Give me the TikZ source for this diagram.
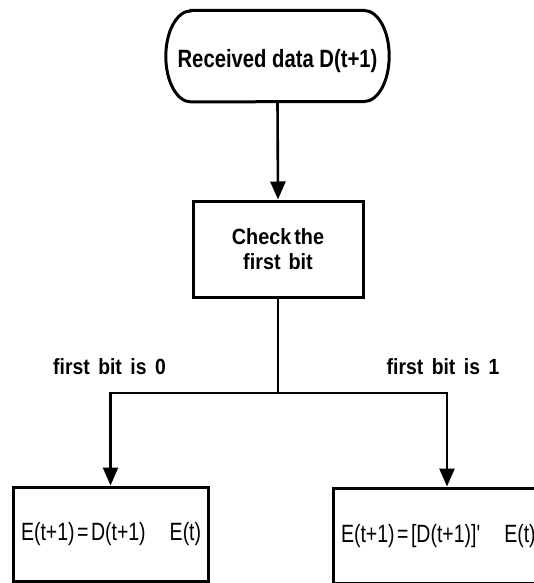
\documentclass[tikz,border=0pt]{standalone}
\usepackage{fontspec}
\setmainfont{Liberation Sans}
\newfontfamily\fRecv[FakeStretch=0.81]{Liberation Sans}
\newfontfamily\fCheck[FakeStretch=0.9]{Liberation Sans}
\newfontfamily\fLab[FakeStretch=0.88]{Liberation Sans}
\newfontfamily\fEq[FakeStretch=0.78]{Liberation Sans}
\usetikzlibrary{arrows.meta}
\begin{document}
\begin{tikzpicture}[x=1pt, y=-1pt,
  outline/.style={draw=black, line width=3pt},
  procbox/.style={outline, rectangle, inner sep=0pt},
  eqbox/.style={outline, rectangle, inner xsep=8pt, inner ysep=0pt, align=left,
    font=\fEq\fontsize{25}{29}\selectfont},
  flow/.style={draw=black, line width=2.6pt, -{Triangle[length=18pt,width=15pt]}},
  wire/.style={draw=black, line width=2.6pt},
  branchlabel/.style={anchor=base, inner sep=0pt,
    font=\fLab\bfseries\fontsize{22}{26}\selectfont}]
\useasboundingbox (0,0) rectangle (534,583);
\clip (0,0) rectangle (534,583);

% start terminal
\node (start) [minimum width=223pt, minimum height=91pt, inner sep=0pt,
  font=\fRecv\bfseries\fontsize{25}{30}\selectfont] at (277.5,56.2)
  {\raisebox{-5pt}[\height][\depth]{Received data D(t+1)}};
\draw[outline] ([xshift=25pt]start.north west) -- ([xshift=-25pt]start.north east)
  arc[start angle=90, end angle=-90, x radius=25pt, y radius=45.5pt]
  -- ([xshift=25pt]start.south west)
  arc[start angle=270, end angle=90, x radius=25pt, y radius=45.5pt] -- cycle;

% decision step
\node (check) [procbox, minimum width=170pt, minimum height=96pt, align=center,
  font=\fCheck\bfseries\fontsize{22}{25}\selectfont] at (278,249)
  {Check\hspace{3pt}the\\first\hspace{8pt}bit};

% result boxes
\node (lbox) [eqbox, minimum width=195pt, minimum height=94pt, text width=179pt] at (110.5,534)
  {\mbox{E(t+1)\kern2.5pt=\kern2.5pt D(t+1)\hspace{24pt}E(t)}};
\node (rbox) [eqbox, minimum width=228pt, minimum height=95.5pt, text width=212pt] at (447,535.75)
  {\mbox{E(t+1)\kern2.5pt=\kern2.5pt[D(t+1)]\symbol{39}\hspace{24pt}E(t)}};

% branch labels
\node (lab0) [branchlabel] at (109.5,374.3) {first\hspace{8.5pt}bit\hspace{8.5pt}is\hspace{8.5pt}0};
\node (lab1) [branchlabel] at (443,374.3) {first\hspace{8.5pt}bit\hspace{8.5pt}is\hspace{8.5pt}1};

% connectors
\coordinate (split) at (278,393);
\draw[flow] (start.south) -- (check.north);
\draw[wire] (check.south) -- (split);
\draw[flow] (split) -| (lbox.north);
\draw[flow] (split) -| (rbox.north);
\end{tikzpicture}
\end{document}
